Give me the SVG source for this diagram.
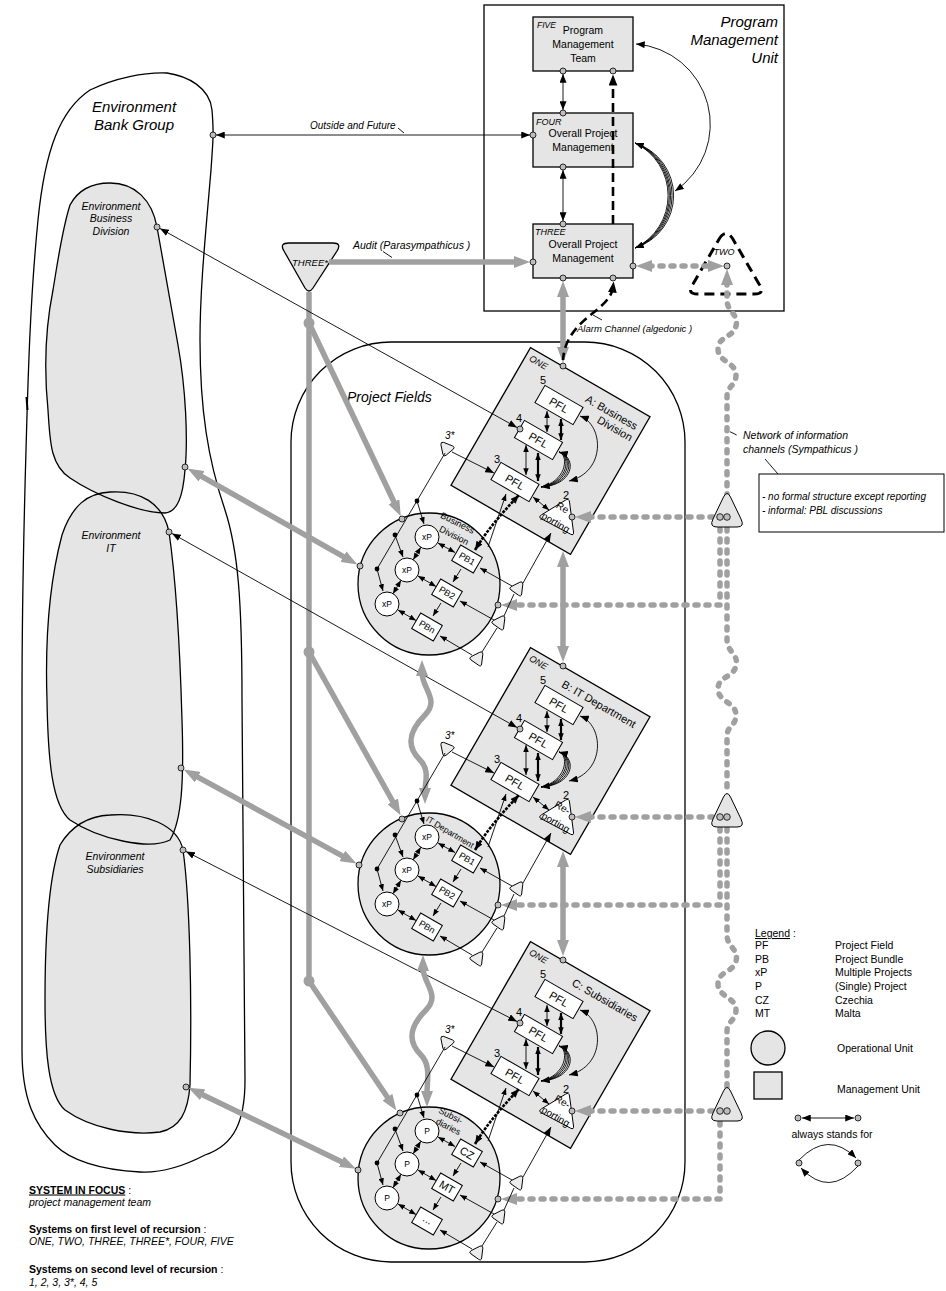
<svg xmlns="http://www.w3.org/2000/svg" width="946" height="1291" viewBox="0 0 946 1291">
<style>
text{font-family:"Liberation Sans",Arial,sans-serif;fill:#000}
.it{font-style:italic}
.bx{fill:#e5e5e5;stroke:#000;stroke-width:1.3}
.wb{fill:#fff;stroke:#000;stroke-width:1}
.pt{fill:#bdbdbd;stroke:#000;stroke-width:0.8}
.ln{fill:none;stroke:#000;stroke-width:0.9}
.lk{fill:none;stroke:#000;stroke-width:2.2}
.lb{fill:none;stroke:#000;stroke-width:2.6;stroke-dasharray:3 1.2}
.ga{fill:none;stroke:#a0a0a0;stroke-width:5.5}
.gd{fill:none;stroke:#a0a0a0;stroke-width:5.5;stroke-dasharray:3 8;stroke-linecap:round}
.kd{fill:none;stroke:#000;stroke-width:2.6;stroke-dasharray:9 5}
.dot{fill:#000}
.gdot{fill:#a0a0a0}
</style>
<defs>
<marker id="a" viewBox="0 0 10 8" refX="10" refY="4" markerWidth="9" markerHeight="7" markerUnits="userSpaceOnUse" orient="auto-start-reverse"><path d="M0,0L10,4L0,8z"/></marker>
<marker id="s" viewBox="0 0 10 8" refX="10" refY="4" markerWidth="7" markerHeight="5.5" markerUnits="userSpaceOnUse" orient="auto-start-reverse"><path d="M0,0L10,4L0,8z"/></marker>
<marker id="d" viewBox="0 0 10 8" refX="5" refY="4" markerWidth="11" markerHeight="9" markerUnits="userSpaceOnUse" orient="auto-start-reverse"><path d="M0,0L10,4L0,8z"/></marker>
<marker id="g" viewBox="0 0 16 12" refX="3" refY="6" markerWidth="16" markerHeight="12" markerUnits="userSpaceOnUse" orient="auto-start-reverse"><path d="M0,0L16,6L0,12z" fill="#a0a0a0"/></marker>
<path id="tri" d="M-1.8,-5.8 Q0,-8.4 1.8,-5.8 L6.4,2.8 Q7.8,5.6 4.6,5.6 L-4.6,5.6 Q-7.8,5.6 -6.4,2.8 Z"/>
<path id="ootri" d="M723.5,497 Q727,490 730.5,497 L741,519 Q745,527 737,527 L717,527 Q709,527 713,519 Z"/>
<path id="pBank" d="M167,73 C188,76 210,88 212,110 C214,135 213,140 211,170 C205,240 200,290 200,340 C200,410 208,460 225,510 C238,550 242,600 242,700 L245,1080 C245,1120 235,1145 205,1155 C180,1168 160,1173 140,1172 C100,1170 70,1160 55,1145 C35,1125 22,1100 22,1050 L22,700 C22,600 24,520 26,450 C28,380 30,300 38,220 C45,150 60,110 90,90 C115,78 145,72 167,73 Z"/>
<path id="pBD" d="M110,183 C135,183 152,200 157,227 C163,260 170,300 178,345 C186,390 188,440 185,470 C183,495 178,512 165,513 C140,513 95,495 70,478 C50,465 50,440 48,410 C44,370 45,330 53,290 C58,260 62,230 70,205 C78,190 92,183 110,183 Z"/>
<path id="pIT" d="M110,492 C140,490 163,503 169,532 C176,580 180,650 182,720 C184,780 182,820 170,840 C150,850 100,840 70,820 C52,805 48,760 47,700 C45,640 50,580 62,535 C72,505 88,493 110,492 Z"/>
<path id="pSub" d="M110,815 C145,812 178,825 183,850 C190,900 192,1000 190,1085 C188,1112 180,1128 160,1132 C130,1136 90,1128 65,1110 C48,1095 45,1050 45,1000 C45,940 48,880 60,845 C72,825 90,816 110,815 Z"/>

<g id="fieldShapes">
<rect class="bx" x="-69" y="-79.5" width="138" height="159" transform="translate(550.5,451) rotate(30)"/>
<text class="it" font-size="9" text-anchor="middle" y="3" transform="translate(538.5,362.5) rotate(30)">ONE</text>
<g transform="translate(559,405) rotate(30)"><rect class="wb" x="-22" y="-10" width="44" height="20"/><text y="4" font-size="11" text-anchor="middle">PFL</text></g>
<g transform="translate(538.5,440) rotate(30)"><rect class="wb" x="-22" y="-10" width="44" height="20"/><text y="4" font-size="11" text-anchor="middle">PFL</text></g>
<g transform="translate(515,482) rotate(30)"><rect class="wb" x="-22" y="-10" width="44" height="20"/><text y="4" font-size="11" text-anchor="middle">PFL</text></g>
<text x="543" y="384" font-size="11" text-anchor="middle">5</text>
<text x="519" y="422" font-size="11" text-anchor="middle">4</text>
<text x="497" y="463" font-size="11" text-anchor="middle">3</text>
<text x="566" y="499" font-size="11" text-anchor="middle">2</text>
<path class="wb" stroke-width="1.1" d="M565.6,500.1 L541.4,514.9 Q538,517 541.5,518.9 L570.5,534.1 Q574,536 573.5,532 L569.5,502 Q569,498 565.6,500.1 Z"/>
<text y="3.5" font-size="10" text-anchor="middle" transform="translate(555.7,522.3) rotate(30)">porting</text>
<use href="#tri" fill="#ececec" stroke="#000" stroke-width="0.9" transform="translate(446,448) rotate(-40)"/>
<text class="it" x="445" y="439" font-size="10">3*</text>
</g>
<g id="fieldLinks">
<path class="ln" d="M547,411 L547,432" marker-start="url(#s)" marker-end="url(#s)"/>
<path class="lk" d="M561,419 L561,440" marker-start="url(#s)" marker-end="url(#s)"/>
<path class="ln" d="M526,445 L526,475" marker-start="url(#s)" marker-end="url(#s)"/>
<path class="lk" d="M538,453 L538,481" marker-start="url(#s)" marker-end="url(#s)"/>
<path class="ln" d="M533,497 L549,510" marker-start="url(#s)" marker-end="url(#s)"/>
<path class="ln" d="M580,416 C604,425 606,472 569,481" marker-start="url(#a)" marker-end="url(#a)"/>
<g class="ln" stroke-width="0.8">
<path d="M559,452 C569,455 567,481 541,487"/>
<path d="M559,452 C571,456 569,482 541,487"/>
<path d="M559,452 C573,456 571,483 541,487" marker-start="url(#a)" marker-end="url(#a)"/>
<path d="M559,452 C575,457 573,484 541,487"/>
<path d="M559,452 C577,457 575,485 541,487"/>
</g>
<path class="ln" d="M452,452 L494,473" marker-end="url(#a)"/>
</g>

<g id="opShapes">
<circle class="bx" cx="429" cy="584" r="71"/>
<circle class="wb" cx="427" cy="537" r="12"/>
<circle class="wb" cx="407" cy="570" r="12"/>
<circle class="wb" cx="387" cy="604" r="12"/>
<rect class="wb" x="-12.5" y="-9" width="25" height="18" transform="translate(467,559) rotate(30)"/>
<rect class="wb" x="-12.5" y="-9" width="25" height="18" transform="translate(447,593) rotate(30)"/>
<rect class="wb" x="-12.5" y="-9" width="25" height="18" transform="translate(427,627) rotate(30)"/>
<use href="#tri" fill="#ececec" stroke="#000" stroke-width="0.9" transform="translate(518,588) rotate(35)"/>
<use href="#tri" fill="#ececec" stroke="#000" stroke-width="0.9" transform="translate(500,622) rotate(35)"/>
<use href="#tri" fill="#ececec" stroke="#000" stroke-width="0.9" transform="translate(478,658) rotate(35)"/>
</g>
<g id="opLinks">
<path class="ln" d="M445,453 L377,569"/>
<circle class="dot" cx="417" cy="501" r="2.4"/>
<circle class="dot" cx="395" cy="535" r="2.4"/>
<circle class="dot" cx="377" cy="569" r="2.4"/>
<path class="ln" d="M417,501 L424,524" marker-end="url(#s)"/>
<path class="ln" d="M395,535 L403,557" marker-end="url(#s)"/>
<path class="ln" d="M377,569 L383,591" marker-end="url(#s)"/>
<path class="ln" d="M420.8,547.3 L413.2,559.7" marker-start="url(#s)" marker-end="url(#s)"/>
<path class="ln" d="M401,580.3 L393,593.7" marker-start="url(#s)" marker-end="url(#s)"/>
<path class="ln" d="M438,543 L455,552.5" marker-start="url(#s)" marker-end="url(#s)"/>
<path class="ln" d="M418,576 L436,586.5" marker-start="url(#s)" marker-end="url(#s)"/>
<path class="ln" d="M398,610 L416,620.5" marker-start="url(#s)" marker-end="url(#s)"/>
<path class="ln" d="M461,569 L453,582" marker-end="url(#s)"/>
<path class="ln" d="M441,603 L433,616" marker-end="url(#s)"/>
<path class="ln" d="M512,586 L480,568" marker-end="url(#s)"/>
<path class="ln" d="M494,620 L460,601" marker-end="url(#s)"/>
<path class="ln" d="M472,655 L440,636" marker-end="url(#s)"/>
<path class="ln" d="M482,652 L497,628"/>
<path class="ln" d="M504,616 L514,594"/>
<path class="ln" d="M523,583 L551,533" marker-end="url(#a)"/>
<path class="ln" d="M488,547 L506,494" marker-end="url(#s)"/>
<path class="lb" d="M475,550 C487,530 503,512 519,495" marker-start="url(#a)" marker-end="url(#a)"/>
</g>
</defs>

<g id="environment">
<use href="#pBank" fill="#fff" stroke="#000" stroke-width="1.3"/>
<path d="M26.5,397 L27.5,410" stroke="#000" stroke-width="2"/>
<use href="#pBD" fill="#e5e5e5"/>
<use href="#pIT" fill="#e5e5e5"/>
<use href="#pSub" fill="#e5e5e5"/>
<use href="#pBD" fill="none" stroke="#000" stroke-width="1.3"/>
<use href="#pIT" fill="none" stroke="#000" stroke-width="1.3"/>
<use href="#pSub" fill="none" stroke="#000" stroke-width="1.3"/>
<text class="it" font-size="15" text-anchor="middle"><tspan x="134" y="112">Environment</tspan><tspan x="134" y="130">Bank Group</tspan></text>
<text class="it" font-size="10.5" text-anchor="middle"><tspan x="111" y="209.5">Environment</tspan><tspan x="111" y="222">Business</tspan><tspan x="111" y="235">Division</tspan></text>
<text class="it" font-size="10.5" text-anchor="middle"><tspan x="111" y="539">Environment</tspan><tspan x="111" y="552">IT</tspan></text>
<text class="it" font-size="10.5" text-anchor="middle"><tspan x="115" y="860">Environment</tspan><tspan x="115" y="873">Subsidiaries</tspan></text>
</g>

<g id="projectFields">
<rect x="291" y="342" width="394" height="920" rx="100" fill="none" stroke="#000" stroke-width="1.3"/>
<text class="it" x="347" y="402" font-size="14">Project Fields</text>
</g>

<g id="programManagementUnit">
<rect x="484" y="5" width="300" height="306" fill="none" stroke="#000" stroke-width="1.3"/>
<text class="it" font-size="15" text-anchor="end"><tspan x="778" y="27">Program</tspan><tspan x="778" y="44.5">Management</tspan><tspan x="778" y="62.5">Unit</tspan></text>
</g>

<g id="five">
<rect class="bx" x="533" y="17" width="100" height="54"/>
<text class="it" x="537" y="27.5" font-size="8.5">FIVE</text>
<text font-size="10.5" text-anchor="middle"><tspan x="583" y="33.5">Program</tspan><tspan x="583" y="47.5">Management</tspan><tspan x="583" y="61.5">Team</tspan></text>
</g>
<g id="four">
<rect class="bx" x="533" y="113" width="100" height="54"/>
<text class="it" x="536" y="125" font-size="9">FOUR</text>
<text font-size="10.5" text-anchor="middle"><tspan x="583" y="137">Overall Project</tspan><tspan x="583" y="150.5">Management</tspan></text>
</g>
<g id="three">
<rect class="bx" x="533" y="224" width="100" height="54"/>
<text class="it" x="535" y="235" font-size="9">THREE</text>
<text font-size="10.5" text-anchor="middle"><tspan x="583" y="248">Overall Project</tspan><tspan x="583" y="261.5">Management</tspan></text>
</g>
<g id="two">
<path d="M718,241 Q726,226 734,241 L759,284 Q766,294 754,294 L698,294 Q686,294 693,284 Z" fill="none" stroke="#000" stroke-width="3" stroke-dasharray="10 6"/>
<text class="it" x="724" y="255" font-size="9" text-anchor="middle">TWO</text>
</g>
<g id="threeStar">
<path d="M289,243 L333,243 Q342,243 337,251 L313,288 Q309,294 305,288 L284,251 Q279,243 289,243 Z" class="bx"/>
<text class="it" x="310" y="266" font-size="9.5" text-anchor="middle">THREE*</text>
</g>

<g id="fieldA">
<use href="#fieldShapes"/>
<text y="3.5" font-size="10" text-anchor="middle" transform="translate(562.5,507.5) rotate(30)">Re</text>
<text font-size="11" text-anchor="middle" y="4" transform="translate(611.7,412.3) rotate(30)">A: Business</text>
<text font-size="11" text-anchor="middle" y="4" transform="translate(615,428.5) rotate(30)">Division</text>
</g>
<g id="fieldB" transform="translate(0,300)">
<use href="#fieldShapes"/>
<text y="3.5" font-size="10" text-anchor="middle" transform="translate(562.5,507.5) rotate(30)">Re-</text>
<text font-size="11" text-anchor="middle" y="4" transform="translate(599,404) rotate(30)">B: IT Department</text>
</g>
<g id="fieldC" transform="translate(0,594)">
<use href="#fieldShapes"/>
<text y="3.5" font-size="10" text-anchor="middle" transform="translate(562.5,507.5) rotate(30)">Re-</text>
<text font-size="11" text-anchor="middle" y="4" transform="translate(605,406) rotate(30)">C: Subsidiaries</text>
</g>

<g id="unitBusiness">
<use href="#opShapes"/>
<text font-size="9" fill="#333" text-anchor="middle" y="3" transform="translate(457.5,523) rotate(27)">Business</text>
<text font-size="9" fill="#333" text-anchor="middle" y="3" transform="translate(454,535.5) rotate(27)">Division</text>
<g font-size="8.5" text-anchor="middle"><text x="427" y="540">xP</text><text x="407" y="573">xP</text><text x="387" y="607">xP</text></g>
<g font-size="9" text-anchor="middle"><text y="3" transform="translate(467,559) rotate(30)">PB1</text><text y="3" transform="translate(447,593) rotate(30)">PB2</text><text y="3" transform="translate(427,627) rotate(30)">PBn</text></g>
</g>
<g id="unitIT" transform="translate(0,300)">
<use href="#opShapes"/>
<text font-size="8.5" fill="#333" text-anchor="middle" y="3" transform="translate(450,532) rotate(31)">IT Department</text>
<g font-size="8.5" text-anchor="middle"><text x="427" y="540">xP</text><text x="407" y="573">xP</text><text x="387" y="607">xP</text></g>
<g font-size="9" text-anchor="middle"><text y="3" transform="translate(467,559) rotate(30)">PB1</text><text y="3" transform="translate(447,593) rotate(30)">PB2</text><text y="3" transform="translate(427,627) rotate(30)">PBn</text></g>
</g>
<g id="unitSubsidiaries" transform="translate(0,594)">
<use href="#opShapes"/>
<text font-size="9" fill="#333" text-anchor="middle" y="3" transform="translate(450.7,521.7) rotate(27)">Subsi-</text>
<text font-size="9" fill="#333" text-anchor="middle" y="3" transform="translate(448.3,532.7) rotate(27)">diaries</text>
<g font-size="8.5" text-anchor="middle"><text x="427" y="540">P</text><text x="407" y="573">P</text><text x="387" y="607">P</text></g>
<g font-size="11" text-anchor="middle"><text y="4" transform="translate(467,559) rotate(30)">CZ</text><text y="4" transform="translate(447,593) rotate(30)">MT</text><text y="2" transform="translate(427,627) rotate(30)">...</text></g>
</g>

<g id="connectors">
<path class="ln" d="M216,135 L530,135" marker-start="url(#a)" marker-end="url(#a)"/>
<path class="ln" d="M398,128 L404,133"/>
<text class="it" x="310" y="129" font-size="10">Outside and Future</text>
<path class="ln" d="M563,74 L563,110" marker-start="url(#a)" marker-end="url(#a)"/>
<path class="ln" d="M563,170 L563,221" marker-start="url(#a)" marker-end="url(#a)"/>
<path class="kd" d="M613,224 L613,80" marker-end="url(#d)"/>
<path class="ln" d="M636,44 A80.6,80.6 0 0 1 675,191" marker-start="url(#a)" marker-end="url(#a)"/>
<g class="ln" stroke-width="0.8">
<path d="M635,143 A55,55 0 0 1 635,248"/>
<path d="M635,143 A55.7,55.7 0 0 1 635,248"/>
<path d="M635,143 A56.5,56.5 0 0 1 635,248" marker-start="url(#a)" marker-end="url(#a)"/>
<path d="M635,143 A57.3,57.3 0 0 1 635,248"/>
<path d="M635,143 A58.2,58.2 0 0 1 635,248"/>
</g>
<path class="gd" d="M649,266 L711,266" marker-start="url(#g)" marker-end="url(#g)"/>
<path class="gd" d="M727,282 L727,300 C727,312 739,314 736,326 C733,338 718,336 718,349 C718,362 736,362 736,375 C736,386 727,386 727,396 L727,494" marker-start="url(#g)"/>
<path class="gd" d="M727,528 L727,640 C727,652 739,654 736,666 C733,678 718,676 718,689 C718,702 736,702 736,715 C736,726 727,726 727,736 L727,794"/>
<path class="gd" d="M727,828 L727,935 C727,947 739,949 736,961 C733,973 718,971 718,984 C718,997 736,997 736,1010 C736,1021 727,1021 727,1031 L727,1088"/>
<path class="gd" d="M713,517 L588,517" marker-end="url(#g)"/>
<path class="gd" d="M720,528 L720,605 L514,605" marker-end="url(#g)"/>
<path class="gd" d="M713,817 L588,817" marker-end="url(#g)"/>
<path class="gd" d="M720,828 L720,905 L514,905" marker-end="url(#g)"/>
<path class="gd" d="M713,1111 L588,1111" marker-end="url(#g)"/>
<path class="gd" d="M720,1122 L720,1199 L514,1199" marker-end="url(#g)"/>
<path class="ga" d="M329,262 L517,262" marker-end="url(#g)"/>
<path class="ln" d="M383,251.5 L392,257.5"/>
<text class="it" x="353" y="249" font-size="10.5">Audit  (Parasympathicus )</text>
<path class="ga" d="M563,294 L563,350" marker-start="url(#g)" marker-end="url(#g)"/>
<path class="kd" d="M613,287 C610,312 566,318 563,360" marker-start="url(#d)"/>
<path class="ln" d="M593,315 L602,320"/>
<text class="it" x="577" y="331.5" font-size="9.5">Alarm Channel  (algedonic )</text>
<path class="ga" d="M309,292 L309,981"/>
<circle class="gdot" cx="309" cy="323" r="5.5"/>
<circle class="gdot" cx="309" cy="652" r="5.5"/>
<circle class="gdot" cx="309" cy="981" r="5.5"/>
<path class="ga" d="M309,323 L395.2,504.5" marker-end="url(#g)"/>
<path class="ga" d="M309,652 L394.2,804" marker-end="url(#g)"/>
<path class="ga" d="M309,981 L389.1,1099.7" marker-end="url(#g)"/>
<path class="ga" d="M198.9,474.9 L346.1,558.1" marker-start="url(#g)" marker-end="url(#g)"/>
<path class="ga" d="M195.1,775.7 L345,857.4" marker-start="url(#g)" marker-end="url(#g)"/>
<path class="ga" d="M200,1093.5 L344.1,1163" marker-start="url(#g)" marker-end="url(#g)"/>
<path class="ln" d="M160,228.5 L517,427.5" marker-start="url(#a)" marker-end="url(#a)"/>
<path class="ln" d="M172,533.5 L517,727.5" marker-start="url(#a)" marker-end="url(#a)"/>
<path class="ln" d="M186,851.5 L517,1021.5" marker-start="url(#a)" marker-end="url(#a)"/>
<path class="ga" d="M422,673 C422,688 440,700 425,715 C410,730 405,745 420,760 C430,770 425,783 425,791" marker-start="url(#g)" marker-end="url(#g)"/>
<path class="ga" d="M423,968 C423,983 441,995 426,1010 C411,1025 406,1040 421,1055 C431,1065 427,1080 427,1094" marker-start="url(#g)" marker-end="url(#g)"/>
<path class="ga" d="M563,564 L563,649" marker-start="url(#g)" marker-end="url(#g)"/>
<path class="ga" d="M563,864 L563,943" marker-start="url(#g)" marker-end="url(#g)"/>
<use href="#fieldLinks"/>
<use href="#fieldLinks" transform="translate(0,300)"/>
<use href="#fieldLinks" transform="translate(0,594)"/>
<use href="#opLinks"/>
<use href="#opLinks" transform="translate(0,300)"/>
<use href="#opLinks" transform="translate(0,594)"/>
<path class="ln" d="M730,431.7 L736.7,435"/>
<text class="it" font-size="10.5"><tspan x="743" y="438.5">Network of information</tspan><tspan x="743" y="452.5">channels  (Sympathicus )</tspan></text>
<path class="ln" d="M765,459 L778,474"/>
</g>

<g id="sympathicusNodes">
<use href="#ootri" fill="#e5e5e5" stroke="#000" stroke-width="1"/>
<use href="#ootri" fill="#e5e5e5" stroke="#000" stroke-width="1" transform="translate(0,300)"/>
<use href="#ootri" fill="#e5e5e5" stroke="#000" stroke-width="1" transform="translate(0,594)"/>
<g class="pt"><circle cx="720" cy="517" r="3.3"/><circle cx="727" cy="517" r="3.3"/><circle cx="720" cy="817" r="3.3"/><circle cx="727" cy="817" r="3.3"/><circle cx="720" cy="1111" r="3.3"/><circle cx="727" cy="1111" r="3.3"/></g>
</g>

<g id="note">
<rect x="759" y="474" width="185" height="58" fill="#fff" stroke="#000" stroke-width="1"/>
<text class="it" font-size="10"><tspan x="762" y="500">- no formal structure except reporting</tspan><tspan x="762" y="513.5">- informal:  PBL discussions</tspan></text>
</g>

<g id="ports" class="pt">
<circle cx="563" cy="71" r="3"/><circle cx="613" cy="71" r="3"/>
<circle cx="563" cy="113" r="3"/><circle cx="563" cy="167" r="3"/><circle cx="533" cy="135" r="3"/>
<circle cx="563" cy="224" r="3"/><circle cx="563" cy="278" r="3"/><circle cx="613" cy="278" r="3"/>
<circle cx="533" cy="262" r="3"/><circle cx="633" cy="266" r="3"/><circle cx="727" cy="266" r="3"/>
<circle cx="213" cy="135" r="3"/><circle cx="157" cy="227" r="3"/><circle cx="185" cy="467" r="3"/>
<circle cx="169" cy="532" r="3"/><circle cx="181" cy="768" r="3"/><circle cx="183" cy="850" r="3"/><circle cx="186" cy="1087" r="3"/>
<circle cx="563" cy="366" r="3"/><circle cx="520" cy="429" r="3"/><circle cx="572" cy="517" r="3"/>
<circle cx="563" cy="666" r="3"/><circle cx="520" cy="729" r="3"/><circle cx="572" cy="817" r="3"/>
<circle cx="563" cy="960" r="3"/><circle cx="520" cy="1023" r="3"/><circle cx="572" cy="1111" r="3"/>
<circle cx="402" cy="519" r="3"/><circle cx="360" cy="566" r="3"/><circle cx="498" cy="605" r="3"/>
<circle cx="402" cy="819" r="3"/><circle cx="359" cy="865" r="3"/><circle cx="498" cy="905" r="3"/>
<circle cx="400" cy="1113" r="3"/><circle cx="358" cy="1170" r="3"/><circle cx="498" cy="1199" r="3"/>
</g>

<g id="legend">
<text font-size="10.5" x="755" y="937"><tspan text-decoration="underline">Legend</tspan> :</text>
<g font-size="10.5">
<text x="755" y="949">PF</text><text x="835" y="949">Project Field</text>
<text x="755" y="962.5">PB</text><text x="835" y="962.5">Project Bundle</text>
<text x="755" y="976">xP</text><text x="835" y="976">Multiple Projects</text>
<text x="755" y="990">P</text><text x="835" y="990">(Single) Project</text>
<text x="755" y="1003.5">CZ</text><text x="835" y="1003.5">Czechia</text>
<text x="755" y="1017">MT</text><text x="835" y="1017">Malta</text>
<text x="837" y="1052">Operational Unit</text>
<text x="837" y="1093">Management Unit</text>
<text x="832" y="1138" text-anchor="middle">always stands for</text>
</g>
<circle class="bx" cx="768" cy="1048" r="17"/>
<rect class="bx" x="754" y="1072" width="28" height="27"/>
<path class="ln" d="M802,1118 L854,1118" marker-start="url(#a)" marker-end="url(#a)"/>
<path class="ln" d="M799,1160 Q828,1130 856,1158" marker-end="url(#a)"/>
<path class="ln" d="M858,1166 Q829,1198 801,1168" marker-end="url(#a)"/>
<g class="pt"><circle cx="798" cy="1118" r="3"/><circle cx="858" cy="1118" r="3"/><circle cx="799" cy="1163" r="3"/><circle cx="858" cy="1163" r="3"/></g>
</g>

<g id="systemInFocus">
<text font-size="10.5" x="29" y="1193.5"><tspan font-weight="bold" text-decoration="underline">SYSTEM IN FOCUS</tspan> :</text>
<text class="it" font-size="10.5" x="29" y="1206">project management team</text>
<text font-size="10.5" x="29" y="1232.5"><tspan font-weight="bold">Systems on first level of recursion</tspan>   :</text>
<text class="it" font-size="10.5" x="29" y="1245">ONE, TWO, THREE, THREE*, FOUR, FIVE</text>
<text font-size="10.5" x="29" y="1272.5"><tspan font-weight="bold">Systems on second level of recursion</tspan>   :</text>
<text class="it" font-size="10.5" x="29" y="1285.5">1, 2, 3, 3*, 4, 5</text>
</g>
</svg>
